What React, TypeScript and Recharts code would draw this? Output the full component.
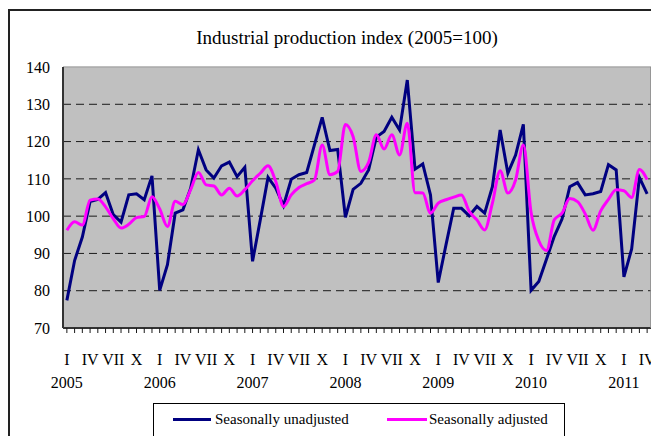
import React from 'react';
import { LineChart, Line, XAxis, YAxis, CartesianGrid, Legend } from 'recharts';

const FONT = '"Liberation Serif", "Times New Roman", serif';

const years = [2005, 2006, 2007, 2008, 2009, 2010, 2011];
const monthLabels = ['I', '', '', 'IV', '', '', 'VII', '', '', 'X', '', ''];
const yTicks = [70, 80, 90, 100, 110, 120, 130, 140];
const gridValues = [80, 90, 100, 110, 120, 130];

const unadjusted = [
  77.4, 88.1, 94.4, 103.9, 104.5, 106.3, 100.4, 98.4, 105.7, 106.0, 104.4, 110.8,
  80.1, 87.0, 100.8, 101.7, 107.5, 117.8, 112.4, 110.2, 113.5, 114.5, 110.6, 113.1,
  87.9, 99.0, 110.4, 107.5, 102.8, 109.9, 111.1, 111.7, 119.1, 126.5, 117.6, 117.9,
  99.7, 107.2, 108.8, 112.4, 121.2, 122.7, 126.5, 123.1, 136.5, 112.6, 114.0, 105.7,
  82.2, 92.3, 102.1, 102.1, 100.1, 102.6, 100.8, 107.9, 123.1, 111.5, 116.4, 124.6,
  80.1, 82.5, 88.5, 94.6, 99.2, 107.9, 109.0, 105.7, 106.0, 106.6, 113.8, 112.4,
  83.7, 91.2, 110.4, 106.0,
];

const adjusted = [
  96.2, 98.5, 97.6, 104.3, 104.6, 102.5, 99.3, 96.8, 97.8, 99.6, 99.9, 105.2,
  101.9, 97.2, 104.0, 103.1, 107.1, 111.7, 108.4, 108.1, 105.7, 107.5, 105.4, 107.1,
  109.5, 111.5, 113.5, 109.3, 102.6, 105.7, 107.7, 108.7, 109.7, 119.1, 111.1, 112.0,
  124.6, 121.3, 112.0, 114.4, 121.8, 118.0, 121.8, 116.4, 124.9, 106.3, 106.2, 100.8,
  103.5, 104.4, 105.1, 105.7, 101.3, 99.0, 96.3, 103.5, 112.2, 106.2, 109.7, 119.1,
  101.0, 93.4, 90.8, 99.0, 100.8, 104.7, 103.9, 100.6, 96.2, 101.4, 104.5, 107.1,
  106.8, 105.0, 112.5, 109.8,
];

const data = unadjusted.map((u, i) => ({
  m: `${years[Math.floor(i / 12)]}-${(i % 12) + 1}`,
  unadjusted: u,
  adjusted: adjusted[i],
}));

const indexByKey: Record<string, number> = {};
data.forEach((d, i) => { indexByKey[d.m] = i; });

const W = 650;
const H = 428;
const PLOT_W = 588;
const HALF = PLOT_W / data.length / 2;

const MonthTick = (props: any) => {
  const { x, y, payload } = props;
  const i = indexByKey[payload.value];
  if (i === undefined) return <g />;
  const roman = monthLabels[i % 12];
  const year = i % 12 === 0 ? String(years[Math.floor(i / 12)]) : '';
  const ty = Number(y);
  return (
    <g>
      {roman && (
        <text x={x} y={ty + 32} textAnchor="middle" fontSize={16} fontFamily={FONT} fill="#000">
          {roman}
        </text>
      )}
      {year && (
        <text x={x} y={ty + 55} textAnchor="middle" fontSize={16} fontFamily={FONT} fill="#000">
          {year}
        </text>
      )}
    </g>
  );
};

const renderLegend = () => (
  <div
    style={{
      position: 'relative',
      width: 412,
      height: 34,
      boxSizing: 'border-box',
      border: '1px solid #000',
      background: '#fff',
      fontFamily: FONT,
      fontSize: 15,
      color: '#000',
    }}
  >
    <div style={{ position: 'absolute', left: 19, top: 14, width: 38, height: 3, background: '#000080' }} />
    <div style={{ position: 'absolute', left: 61, top: 6, lineHeight: '18px', whiteSpace: 'nowrap' }}>Seasonally unadjusted</div>
    <div style={{ position: 'absolute', left: 233, top: 14, width: 40, height: 3, background: '#ff00ff' }} />
    <div style={{ position: 'absolute', left: 275, top: 6, lineHeight: '18px', whiteSpace: 'nowrap' }}>Seasonally adjusted</div>
  </div>
);

export default function App() {
  return (
    <div style={{ position: 'relative', width: W, height: H, fontFamily: FONT }}>
      <svg style={{ position: 'absolute', left: 0, top: 0 }} width={W} height={H}>
        <line x1={1} y1={2} x2={1} y2={H} stroke="#222" strokeWidth={2} />
        <line x1={0} y1={2} x2={W} y2={2} stroke="#222" strokeWidth={2} />
        <text x={339} y={36} textAnchor="middle" fontSize={19} fontFamily={FONT} fill="#000">
          Industrial production index (2005=100)
        </text>
      </svg>
      <LineChart width={W} height={H} data={data} margin={{ top: 58, right: 6, bottom: 48, left: 0 }}>
        <CartesianGrid
          fill="#c0c0c0"
          stroke="#1a1a1a"
          strokeDasharray="8 5"
          vertical={false}
          horizontalValues={gridValues}
        />
        <XAxis
          dataKey="m"
          interval={0}
          tick={(p: any) => <MonthTick {...p} />}
          tickSize={5}
          tickMargin={0}
          tickLine={{ stroke: '#1a1a1a', strokeWidth: 1 }}
          height={60}
          padding={{ left: HALF, right: HALF }}
          axisLine={{ stroke: '#333', strokeWidth: 2 }}
        />
        <XAxis
          xAxisId="top"
          orientation="top"
          type="number"
          domain={[0, data.length]}
          height={1}
          tick={false}
          tickLine={false}
          axisLine={{ stroke: '#a8a8a8', strokeWidth: 1.5 }}
        />
        <YAxis
          domain={[70, 140]}
          ticks={yTicks}
          interval={0}
          width={55}
          tickLine={false}
          tickSize={0}
          tickMargin={13}
          tick={{ fill: '#000', fontSize: 16, fontFamily: FONT }}
          axisLine={{ stroke: '#333', strokeWidth: 2 }}
        />
        <YAxis
          yAxisId="right"
          orientation="right"
          width={1}
          domain={[70, 140]}
          tick={false}
          tickLine={false}
          axisLine={{ stroke: '#888', strokeWidth: 1.5 }}
        />
        <Line
          dataKey="unadjusted"
          name="Seasonally unadjusted"
          type="linear"
          stroke="#000080"
          strokeWidth={3}
          dot={false}
          isAnimationActive={false}
        />
        <Line
          dataKey="adjusted"
          name="Seasonally adjusted"
          type="monotone"
          stroke="#ff00ff"
          strokeWidth={3}
          dot={false}
          isAnimationActive={false}
        />
        <Legend
          content={renderLegend}
          verticalAlign="middle"
          align="center"
          wrapperStyle={{ left: 145, top: 395, width: 412, height: 34 }}
        />
      </LineChart>
    </div>
  );
}
